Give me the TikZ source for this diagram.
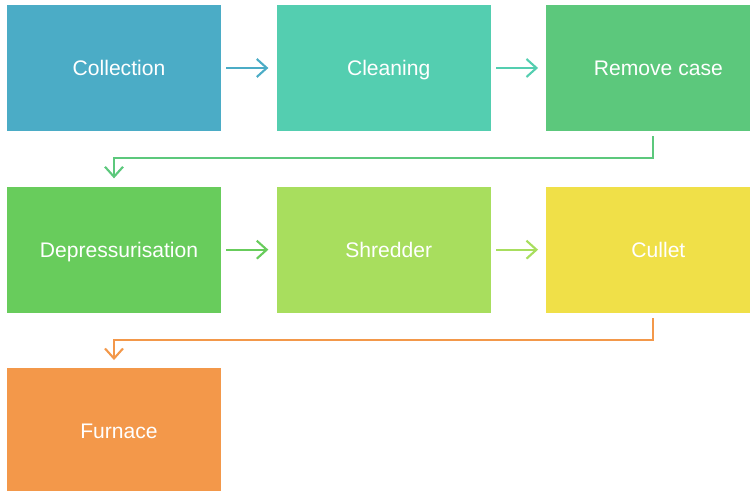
\documentclass[tikz,border=0pt]{standalone}
\usepackage{fontspec}
\setmainfont{Liberation Sans}
\usepackage{xcolor}
\usepackage{tikz}
\usetikzlibrary{arrows.meta, positioning}

\definecolor{cCollect}{RGB}{75,172,198}
\definecolor{cClean}{RGB}{84,206,176}
\definecolor{cRemove}{RGB}{92,200,124}
\definecolor{cDepress}{RGB}{104,204,92}
\definecolor{cShred}{RGB}{168,222,94}
\definecolor{cCullet}{RGB}{240,224,72}
\definecolor{cFurnace}{RGB}{243,152,74}

\begin{document}
\begin{tikzpicture}[
  node distance=1.1cm and 1.1cm,
  stagebox/.style={rectangle, minimum width=4.28cm, minimum height=2.52cm,
             text=white, font=\fontsize{12}{14}\selectfont,
             inner sep=0pt, text depth=0pt,
             execute at begin node=\hskip0.2cm},
  arrow/.style={-{Straight Barb[length=2mm, width=3.6mm]}, line width=1.2pt,
             shorten <=0.1cm, shorten >=0.16cm}
]
\useasboundingbox (0,0) rectangle (15,-9.82);
\node[stagebox, fill=cCollect] (collect) at (2.28,-1.36) {Collection};
\node[stagebox, fill=cClean, right=of collect] (clean) {Cleaning};
\node[stagebox, fill=cRemove, right=of clean] (remove) {Remove case};
\node[stagebox, fill=cDepress, below=of collect] (depress) {Depressurisation};
\node[stagebox, fill=cShred, right=of depress] (shred) {Shredder};
\node[stagebox, fill=cCullet, right=of shred] (cullet) {Cullet};
\node[stagebox, fill=cFurnace, below=of depress] (furnace) {Furnace};
\draw[arrow, cCollect] (collect) -- (clean);
\draw[arrow, cClean] (clean) -- (remove);
\draw[arrow, cRemove] (remove.south) -- ++(0,-0.54) -| (depress.north);
\draw[arrow, cDepress] (depress) -- (shred);
\draw[arrow, cShred] (shred) -- (cullet);
\draw[arrow, cFurnace] (cullet.south) -- ++(0,-0.54) -| (furnace.north);
\end{tikzpicture}
\end{document}
